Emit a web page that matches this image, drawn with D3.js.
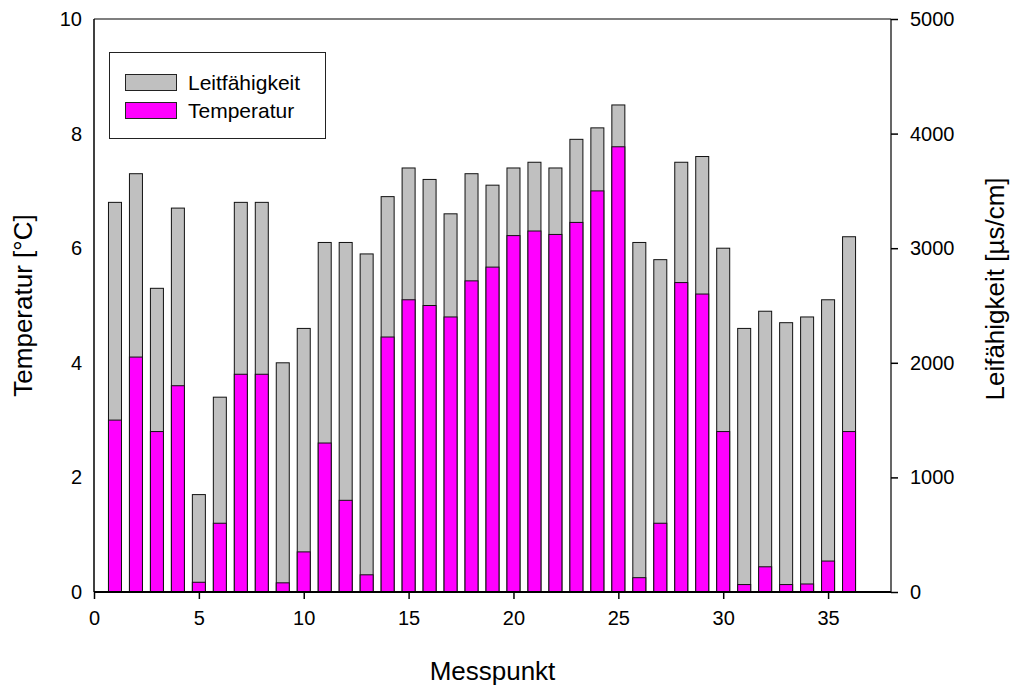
<!DOCTYPE html>
<html>
<head>
<meta charset="utf-8">
<script src="https://cdn.jsdelivr.net/npm/d3@7"></script>
<style>
  body { margin: 0; background: #fff; }
  text { font-family: Arial, "Liberation Sans", sans-serif; fill: #000; }
</style>
</head>
<body>
<div class="graph"></div>
<script>
// Messpunkt 1..36
const messpunkt = d3.range(1, 37);
// Leitfähigkeit in µs/cm (right axis)
const leitfaehigkeit = [3400, 3650, 2650, 3350, 850, 1700, 3400, 3400, 2000, 2300,
                        3050, 3050, 2950, 3450, 3700, 3600, 3300, 3650, 3550, 3700,
                        3750, 3700, 3950, 4050, 4250, 3050, 2900, 3750, 3800, 3000,
                        2300, 2450, 2350, 2400, 2550, 3100];
// Temperatur in °C (left axis)
const temperatur = [3.0, 4.1, 2.8, 3.6, 0.17, 1.2, 3.8, 3.8, 0.16, 0.7,
                    2.6, 1.6, 0.3, 4.45, 5.1, 5.0, 4.8, 5.43, 5.67, 6.22,
                    6.3, 6.24, 6.45, 7.0, 7.77, 0.25, 1.2, 5.4, 5.2, 2.8,
                    0.13, 0.44, 0.13, 0.14, 0.54, 2.8];
const xTicks = [0, 5, 10, 15, 20, 25, 30, 35];
const tempTicks = [0, 2, 4, 6, 8, 10];
const leitTicks = [0, 1000, 2000, 3000, 4000, 5000];

const w = 1016, h = 686;
const pLeft = 94, pRight = 891, pTop = 19, pBottom = 592;

const xScale = d3.scaleLinear().domain([0, 38]).range([pLeft, pRight]);
const yTemp = d3.scaleLinear().domain([0, 10]).range([pBottom, pTop]);
const yLeit = d3.scaleLinear().domain([0, 5000]).range([pBottom, pTop]);
const halfW = 0.31;

const svg = d3.select(".graph").append("svg")
  .attr("width", w).attr("height", h);

const dataset = messpunkt.map((m, i) => ({ m: m, leit: leitfaehigkeit[i], temp: temperatur[i] }));

// gray bars (Leitfähigkeit)
svg.append("g").selectAll("rect")
  .data(dataset).enter().append("rect")
  .attr("x", d => xScale(d.m - halfW))
  .attr("width", d => xScale(d.m + halfW) - xScale(d.m - halfW))
  .attr("y", d => yLeit(d.leit))
  .attr("height", d => yLeit(0) - yLeit(d.leit))
  .attr("fill", "#c0c0c0")
  .attr("stroke", "#111")
  .attr("stroke-width", 1);

// magenta bars (Temperatur)
svg.append("g").selectAll("rect")
  .data(dataset).enter().append("rect")
  .attr("x", d => xScale(d.m - halfW))
  .attr("width", d => xScale(d.m + halfW) - xScale(d.m - halfW))
  .attr("y", d => yTemp(d.temp))
  .attr("height", d => yTemp(0) - yTemp(d.temp))
  .attr("fill", "#ff00ff")
  .attr("stroke", "#111")
  .attr("stroke-width", 1);

// axes
const xAxis = d3.axisBottom(xScale).tickValues(xTicks).tickSize(7).tickPadding(12).tickFormat(d3.format("d"));
const gx = svg.append("g")
  .attr("transform", "translate(0," + pBottom + ")")
  .call(xAxis);

const yAxisL = d3.axisLeft(yTemp).tickValues(tempTicks).tickSize(0).tickPadding(12).tickFormat(d3.format("d"));
const gl = svg.append("g")
  .attr("transform", "translate(" + pLeft + ",0)")
  .call(yAxisL);

const yAxisR = d3.axisRight(yLeit).tickValues(leitTicks).tickSize(7).tickPadding(12).tickFormat(d3.format("d"));
const gr = svg.append("g")
  .attr("transform", "translate(" + pRight + ",0)")
  .call(yAxisR);

[gx, gl, gr].forEach(g => {
  g.select(".domain").remove();
  g.selectAll(".tick line").attr("stroke", "#000").attr("stroke-width", 1.5);
  g.selectAll(".tick text").style("font-size", "20px").attr("fill", "#000");
});

// frame lines
svg.append("line").attr("x1", pLeft).attr("x2", pLeft).attr("y1", pTop).attr("y2", pBottom)
  .attr("stroke", "#000").attr("stroke-width", 1.5);
svg.append("line").attr("x1", pRight).attr("x2", pRight).attr("y1", pTop).attr("y2", pBottom)
  .attr("stroke", "#000").attr("stroke-width", 1.2);
svg.append("line").attr("x1", pLeft).attr("x2", pRight).attr("y1", pBottom).attr("y2", pBottom)
  .attr("stroke", "#000").attr("stroke-width", 2);
svg.append("line").attr("x1", pLeft).attr("x2", pRight).attr("y1", pTop).attr("y2", pTop)
  .attr("stroke", "#000").attr("stroke-width", 1.2);

// axis titles
svg.append("text")
  .attr("x", (pLeft + pRight) / 2).attr("y", 680)
  .style("text-anchor", "middle").style("font-size", "26px")
  .text("Messpunkt");

svg.append("text")
  .attr("transform", "translate(32," + ((pTop + pBottom) / 2) + ") rotate(-90)")
  .style("text-anchor", "middle").style("font-size", "26px")
  .text("Temperatur [°C]");

svg.append("text")
  .attr("transform", "translate(1004,289) rotate(-90)")
  .style("text-anchor", "middle").style("font-size", "26px")
  .text("Leifähigkeit [µs/cm]");

// legend
const legend = svg.append("g");
legend.append("rect")
  .attr("x", 109.5).attr("y", 52.5).attr("width", 216).attr("height", 86)
  .attr("fill", "#fff").attr("stroke", "#222").attr("stroke-width", 1);
const legendItems = [["Leitfähigkeit", "#c0c0c0"], ["Temperatur", "#ff00ff"]];
legendItems.forEach((d, i) => {
  legend.append("rect")
    .attr("x", 125.5).attr("y", 74.5 + i * 28).attr("width", 51).attr("height", 16)
    .attr("fill", d[1]).attr("stroke", "#222").attr("stroke-width", 1);
  legend.append("text")
    .attr("x", 188).attr("y", 90 + i * 28)
    .style("font-size", "21px")
    .text(d[0]);
});
</script>
</body>
</html>
